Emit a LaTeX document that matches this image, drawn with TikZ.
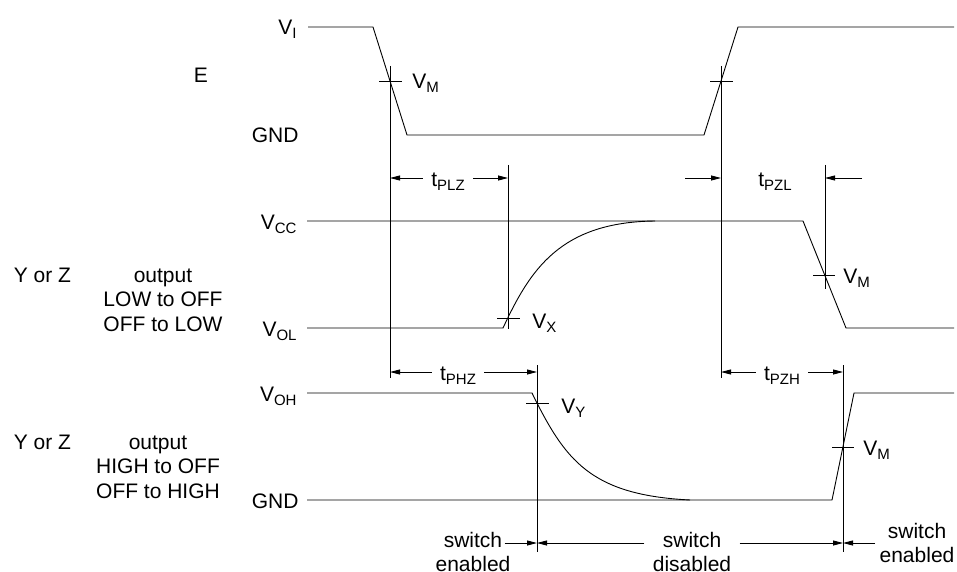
\documentclass[tikz,border=0pt]{standalone}
\usepackage{fontspec}
\setmainfont{Liberation Sans}
\usetikzlibrary{arrows.meta}
\newcommand{\lowsub}[1]{\raisebox{-4pt}{\fontsize{15}{15}\selectfont #1}}
\tikzset{
    lvl/.style={anchor=base east,inner sep=0pt},
    val/.style={anchor=base west,inner sep=0pt},
    txt/.style={anchor=base,inner sep=0pt},
    tlbl/.style={inner xsep=8pt,inner ysep=0pt,text height=16pt,text depth=0pt},
    swlbl/.style={inner ysep=0pt,text height=12pt,text depth=4pt},
    dim/.style={-{Triangle[length=10pt,width=5pt]}},
}
\begin{document}
\begin{tikzpicture}[x=1pt,y=-1pt,line width=0.9pt,font=\fontsize{21}{24.5}\selectfont]
            \useasboundingbox (0,0) rectangle (957,572);
            \coordinate (mA) at (390,81);
            \coordinate (mB) at (721,81);
            \coordinate (mX) at (508,318);
            \coordinate (mL) at (825,275);
            \coordinate (mY) at (537,403);
            \coordinate (mH) at (843,447);
            % input E
            \node (e) at (201,75) {E};
            \node[lvl] (vi) at (297,35) {V\lowsub{I}};
            \node[lvl] (gnda) at (299,143) {GND};
            \draw (308,27) -- (373,27) -- (407,135) -- (704,135) -- (738,27) -- (954,27);
            \draw (379,81) -- (402,81);
            \draw (710,81) -- (733,81);
            \node[val] (vma) at (412,89) {V\lowsub{M}};
            \draw (390,66) -- (390,378);
            \draw (721,66) -- (721,378);
            \draw (508,165) -- (508,329);
            \draw (825,165) -- (825,289);
            \draw (537,365) -- (537,552);
            \draw (843,365) -- (843,552);
            % output LOW
            \node[anchor=base west] (yza) at (10,282) {Y or Z};
            \node[txt] (oa1) at (163,282) {output};
            \node[txt] (oa2) at (163,306.5) {LOW to OFF};
            \node[txt] (oa3) at (163,331) {OFF to LOW};
            \node[lvl] (vcc) at (297,229) {V\lowsub{CC}};
            \node[lvl] (vol) at (297,336) {V\lowsub{OL}};
            \draw (307,221) -- (803,221) -- (846,328) -- (954,328);
            \draw (307,328) -- (503,328) .. controls (530,270) and (560,222) .. (655,221);
            \draw (497,318) -- (520,318);
            \draw (813,275) -- (835,275);
            \node[val] (vx) at (532,328) {V\lowsub{X}};
            \node[val] (vmb) at (843,283) {V\lowsub{M}};
            % output HIGH
            \node[anchor=base west] (yzb) at (10,449) {Y or Z};
            \node[txt] (ob1) at (158,449) {output};
            \node[txt] (ob2) at (158,473.5) {HIGH to OFF};
            \node[txt] (ob3) at (158,498) {OFF to HIGH};
            \node[lvl] (voh) at (297,401) {V\lowsub{OH}};
            \node[lvl] (gndb) at (299,508) {GND};
            \draw (307,393) -- (532,393) .. controls (565,460) and (590,495) .. (690,500);
            \draw (307,500) -- (832,500) -- (854,393) -- (954,393);
            \draw (526,403) -- (549,403);
            \draw (832,447) -- (854,447);
            \node[val] (vy) at (561,413) {V\lowsub{Y}};
            \node[val] (vmc) at (863,455) {V\lowsub{M}};
            % timing
            \node[tlbl] (tplz) at (448,178) {t\lowsub{PLZ}};
            \draw[dim] (tplz.west) -- (tplz.west -| mA);
            \draw[dim] (tplz.east) -- (tplz.east -| mX);
            \node[tlbl] (tpzl) at (775,178) {t\lowsub{PZL}};
            \coordinate (pzla) at (685,178);
            \coordinate (pzlb) at (862,178);
            \draw[dim] (pzla) -- (pzla -| mB);
            \draw[dim] (pzlb) -- (pzlb -| mL);
            \node[tlbl] (tphz) at (458,372) {t\lowsub{PHZ}};
            \draw[dim] (tphz.west) -- (tphz.west -| mA);
            \draw[dim] (tphz.east) -- (tphz.east -| mY);
            \node[tlbl] (tpzh) at (782,372) {t\lowsub{PZH}};
            \draw[dim] (tpzh.west) -- (tpzh.west -| mB);
            \draw[dim] (tpzh.east) -- (tpzh.east -| mH);
            % switch
            \node[swlbl,inner xsep=2pt] (swa) at (473,543) {switch};
            \node[txt] (ena) at (473,571) {enabled};
            \draw[dim] (swa.east) -- (swa.east -| mY);
            \node[swlbl,inner xsep=18pt] (swb) at (692,543) {switch};
            \node[txt] (disb) at (692,571) {disabled};
            \draw[dim] (swb.west) -- (swb.west -| mY);
            \draw[dim] (swb.east) -- (swb.east -| mH);
            \node[txt] (swc) at (917,538) {switch};
            \node[txt] (enc) at (917,562) {enabled};
            \coordinate (swd) at (875,543);
            \draw[dim] (swd) -- (swd -| mH);
\end{tikzpicture}
\end{document}
